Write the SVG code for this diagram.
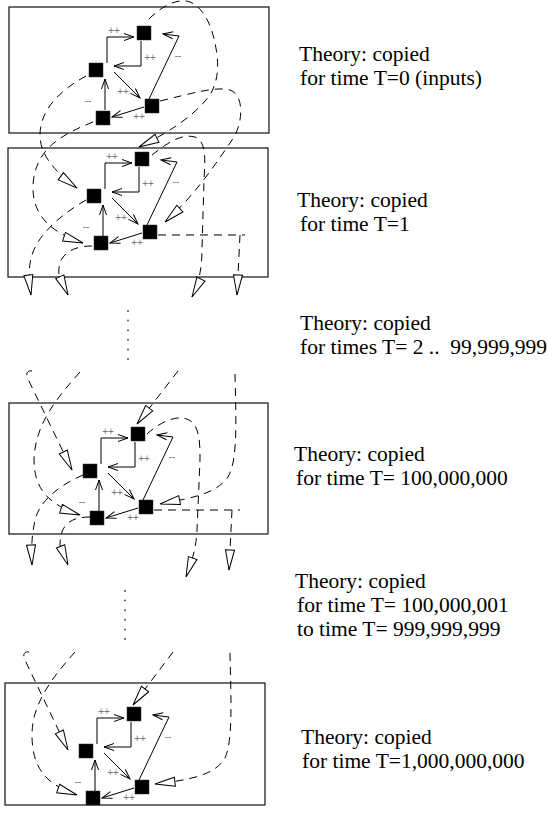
<svg xmlns="http://www.w3.org/2000/svg" width="548" height="817" viewBox="0 0 548 817">
<defs>
<marker id="v" markerUnits="userSpaceOnUse" markerWidth="12" markerHeight="9" refX="10" refY="3.5" orient="auto" overflow="visible">
<path d="M0,0 L10,3.5 L0,7" fill="none" stroke="#000" stroke-width="1"/>
</marker>
<marker id="tri" markerUnits="userSpaceOnUse" markerWidth="22" markerHeight="12" refX="20" refY="4.5" orient="auto" overflow="visible">
<path d="M0,0 L20,4.5 L0,9 Z" fill="#fff" stroke="#000" stroke-width="1" stroke-dasharray="none"/>
</marker>
<style>
.frame{fill:none;stroke:#222;stroke-width:1.3}
.node{fill:#000;stroke:#333;stroke-width:0.5}
.e{fill:none;stroke:#000;stroke-width:1;marker-end:url(#v)}
.d{fill:none;stroke:#000;stroke-width:1;stroke-dasharray:8 6;marker-end:url(#tri)}
.lbl{font-family:"Liberation Sans",Arial,sans-serif;font-size:10px;fill:#777;text-anchor:middle}
.cap{font-family:"Liberation Serif","Times New Roman",serif;font-size:21.5px;fill:#000;white-space:pre}
.dot{fill:#555}
</style>
</defs>
<rect width="548" height="817" fill="#fff"/>

<g id="frames">
<rect id="frame-t0" class="frame" x="9" y="7" width="260" height="126"/>
<rect id="frame-t1" class="frame" x="8" y="148" width="260" height="129"/>
<rect id="frame-t2" class="frame" x="9" y="403" width="259" height="131"/>
<rect id="frame-t3" class="frame" x="5" y="683" width="260" height="122"/>
</g>

<g id="nodes">
<g id="t0-top"><rect class="node" x="137" y="26" width="14" height="14"/></g>
<g id="t0-left"><rect class="node" x="89" y="63" width="14" height="14"/></g>
<g id="t0-bl"><rect class="node" x="96" y="111" width="14" height="14"/></g>
<g id="t0-br"><rect class="node" x="145" y="99" width="14" height="14"/></g>

<g id="t1-top"><rect class="node" x="135" y="152" width="14" height="14"/></g>
<g id="t1-left"><rect class="node" x="87" y="189" width="14" height="14"/></g>
<g id="t1-bl"><rect class="node" x="94" y="236" width="14" height="14"/></g>
<g id="t1-br"><rect class="node" x="143" y="225" width="14" height="14"/></g>

<g id="t2-top"><rect class="node" x="131" y="427" width="14" height="14"/></g>
<g id="t2-left"><rect class="node" x="83" y="464" width="14" height="14"/></g>
<g id="t2-bl"><rect class="node" x="90" y="511" width="14" height="14"/></g>
<g id="t2-br"><rect class="node" x="139" y="500" width="14" height="14"/></g>

<g id="t3-top"><rect class="node" x="127" y="707" width="14" height="14"/></g>
<g id="t3-left"><rect class="node" x="79" y="744" width="14" height="14"/></g>
<g id="t3-bl"><rect class="node" x="86" y="791" width="14" height="14"/></g>
<g id="t3-br"><rect class="node" x="135" y="780" width="14" height="14"/></g>
</g>

<g id="connectors">
<g id="edges-t0" transform="translate(96,70)">
<path class="e" d="M11,-7 V-33 H38"/>
<path class="e" d="M45,-29 V-4 H18"/>
<path class="e" d="M53,29 L83,-34 L67,-36"/>
<path class="e" d="M18,2 L44,28"/>
<path class="e" d="M48,37 L16,47"/>
<path class="e" d="M9,40 V9"/>
<text class="lbl" x="18" y="-36.5">++</text>
<text class="lbl" x="54" y="-9.5">++</text>
<text class="lbl" x="82" y="-11.5">--</text>
<text class="lbl" x="27" y="24.5">++</text>
<text class="lbl" x="43" y="49.5">++</text>
<text class="lbl" x="-8" y="33.5">--</text>
</g>
<g id="edges-t1" transform="translate(94,196)">
<path class="e" d="M11,-7 V-33 H38"/>
<path class="e" d="M45,-29 V-4 H18"/>
<path class="e" d="M53,29 L83,-34 L67,-36"/>
<path class="e" d="M18,2 L44,28"/>
<path class="e" d="M48,37 L16,47"/>
<path class="e" d="M9,40 V9"/>
<text class="lbl" x="18" y="-36.5">++</text>
<text class="lbl" x="54" y="-9.5">++</text>
<text class="lbl" x="82" y="-11.5">--</text>
<text class="lbl" x="27" y="24.5">++</text>
<text class="lbl" x="43" y="49.5">++</text>
<text class="lbl" x="-8" y="33.5">--</text>
</g>
<g id="edges-t2" transform="translate(90,471)">
<path class="e" d="M11,-7 V-33 H38"/>
<path class="e" d="M45,-29 V-4 H18"/>
<path class="e" d="M53,29 L83,-34 L67,-36"/>
<path class="e" d="M18,2 L44,28"/>
<path class="e" d="M48,37 L16,47"/>
<path class="e" d="M9,40 V9"/>
<text class="lbl" x="18" y="-36.5">++</text>
<text class="lbl" x="54" y="-9.5">++</text>
<text class="lbl" x="82" y="-11.5">--</text>
<text class="lbl" x="27" y="24.5">++</text>
<text class="lbl" x="43" y="49.5">++</text>
<text class="lbl" x="-8" y="33.5">--</text>
</g>
<g id="edges-t3" transform="translate(86,751)">
<path class="e" d="M11,-7 V-33 H38"/>
<path class="e" d="M45,-29 V-4 H18"/>
<path class="e" d="M53,29 L83,-34 L67,-36"/>
<path class="e" d="M18,2 L44,28"/>
<path class="e" d="M48,37 L16,47"/>
<path class="e" d="M9,40 V9"/>
<text class="lbl" x="18" y="-36.5">++</text>
<text class="lbl" x="54" y="-9.5">++</text>
<text class="lbl" x="82" y="-11.5">--</text>
<text class="lbl" x="27" y="24.5">++</text>
<text class="lbl" x="43" y="49.5">++</text>
<text class="lbl" x="-8" y="33.5">--</text>
</g>

<g id="time-links">
<path class="d" d="M149,19 C163,5 178,-2 190,2 C205,8 214,30 217,55 C219,72 216,85 210,95 C195,115 170,132 139,147"/>
<path class="d" d="M160,101 C190,94 215,86 230,90 C245,95 243,125 232,140 C215,165 195,195 165,222"/>
<path class="d" d="M86,76 C60,90 40,110 40,135 C40,155 55,172 77,188"/>
<path class="d" d="M93,122 C60,135 35,150 33,185 C32,215 50,232 83,243"/>

<path class="d" d="M152,155 C165,145 180,133 195,137 C207,142 205,160 204,180 L202,250 C202,268 199,283 192,297"/>
<path class="d" d="M158,235 L245,235 M240,235 L237,295"/>
<path class="d" d="M86,200 C60,215 38,235 32,255 C28,268 29,280 31,295"/>
<path class="d" d="M92,246 C68,246 57,258 59,275 L68,295"/>

<path class="d" d="M178,371 L137,424"/>
<path class="d" d="M32,371 C28,370 26,373 27,377 L72,470"/>
<path class="d" d="M80,372 C55,400 35,425 34,460 C34,490 50,505 80,515"/>
<path class="d" d="M235,374 C236,420 238,460 228,477 C215,495 190,498 160,504"/>

<path class="d" d="M83,475 C60,485 40,500 35,520 C32,535 31,545 32,565"/>
<path class="d" d="M90,517 C70,517 60,525 60,545 L68,565"/>
<path class="d" d="M147,434 C160,422 180,412 192,422 C200,430 200,445 200,460 L197,530 C196,550 192,560 186,577"/>
<path class="d" d="M154,510 L240,510 M232,510 L229,570"/>

<path class="d" d="M173,652 L133,705"/>
<path class="d" d="M29,652 C25,651 23,654 24,658 L68,750"/>
<path class="d" d="M75,652 C50,680 32,705 32,735 C32,770 48,785 77,795"/>
<path class="d" d="M230,653 C231,700 233,740 225,758 C215,775 190,780 155,784"/>
</g>
</g>

<g id="ellipsis">
<circle class="dot" cx="128" cy="311" r="1"/>
<circle class="dot" cx="128" cy="320.6" r="1"/>
<circle class="dot" cx="128" cy="330.2" r="1"/>
<circle class="dot" cx="128" cy="339.8" r="1"/>
<circle class="dot" cx="128" cy="349.4" r="1"/>
<circle class="dot" cx="128" cy="359" r="1"/>
<circle class="dot" cx="125" cy="591" r="1"/>
<circle class="dot" cx="125" cy="600.6" r="1"/>
<circle class="dot" cx="125" cy="610.2" r="1"/>
<circle class="dot" cx="125" cy="619.8" r="1"/>
<circle class="dot" cx="125" cy="629.4" r="1"/>
<circle class="dot" cx="125" cy="639" r="1"/>
</g>

<g id="captions">
<text class="cap" x="299" y="61">Theory: copied</text>
<text class="cap" x="300" y="85">for time T=0 (inputs)</text>
<text class="cap" x="297" y="207">Theory: copied</text>
<text class="cap" x="300" y="231">for time T=1</text>
<text class="cap" x="300" y="330">Theory: copied</text>
<text class="cap" x="300" y="354" xml:space="preserve">for times T= 2 ..  99,999,999</text>
<text class="cap" x="294" y="461">Theory: copied</text>
<text class="cap" x="296" y="485">for time T= 100,000,000</text>
<text class="cap" x="295" y="588">Theory: copied</text>
<text class="cap" x="297" y="612">for time T= 100,000,001</text>
<text class="cap" x="297" y="636">to time T= 999,999,999</text>
<text class="cap" x="301" y="744">Theory: copied</text>
<text class="cap" x="302" y="768">for time T=1,000,000,000</text>
</g>
</svg>
